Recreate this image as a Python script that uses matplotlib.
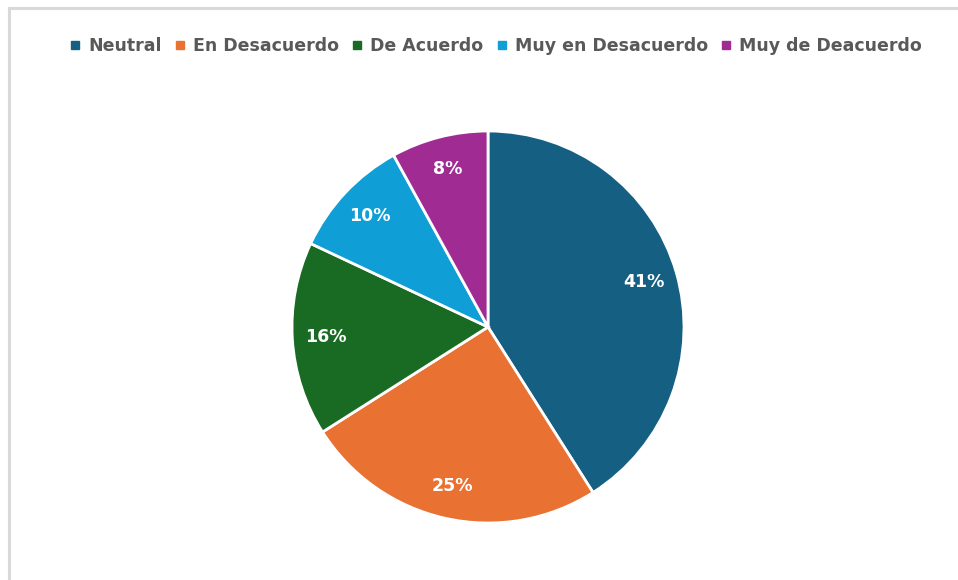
import matplotlib
matplotlib.use('Agg')
import matplotlib.pyplot as plt
from matplotlib.patches import Rectangle
from matplotlib.lines import Line2D

categories = ['Neutral', 'En Desacuerdo', 'De Acuerdo', 'Muy en Desacuerdo', 'Muy de Deacuerdo']
values = [41, 25, 16, 10, 8]
colors = ['#156082', '#E97132', '#196B24', '#0F9ED5', '#A02B93']

W, H = 958, 580
fig = plt.figure(figsize=(W / 100, H / 100), dpi=100)

# light gray chart border (left and top visible)
fig.add_artist(Rectangle((9 / W, -0.1), 1.2, 1 - 8 / H + 0.1, transform=fig.transFigure,
                         fill=False, edgecolor='#D9D9D9', linewidth=2.2))

cx, cy, r = 488, 327, 196
ax = fig.add_axes([(cx - r) / W, (H - cy - r) / H, 2 * r / W, 2 * r / H])
wedges, _, autotexts = ax.pie(
    values, colors=colors, startangle=90, counterclock=False,
    autopct='%d%%', pctdistance=0.83,
    wedgeprops=dict(edgecolor='white', linewidth=2.0),
    textprops=dict(color='white', fontsize=12.5, fontweight='bold'),
)
ax.set_xlim(-1.0, 1.0)
ax.set_ylim(-1.0, 1.0)
ax.set_aspect('equal')
ax.axis('off')

handles = [Line2D([], [], marker='s', linestyle='', markersize=6,
                  markerfacecolor=c, markeredgecolor=c) for c in colors]
fig.legend(handles, categories, loc='center', ncol=5,
           bbox_to_anchor=(496 / W, 1 - 46 / H), frameon=False,
           handlelength=0.6, handletextpad=0.45, columnspacing=0.75,
           prop=dict(size=12.5, weight='bold'), labelcolor='#595959')

fig.savefig('out.png', dpi=100, facecolor='white')
